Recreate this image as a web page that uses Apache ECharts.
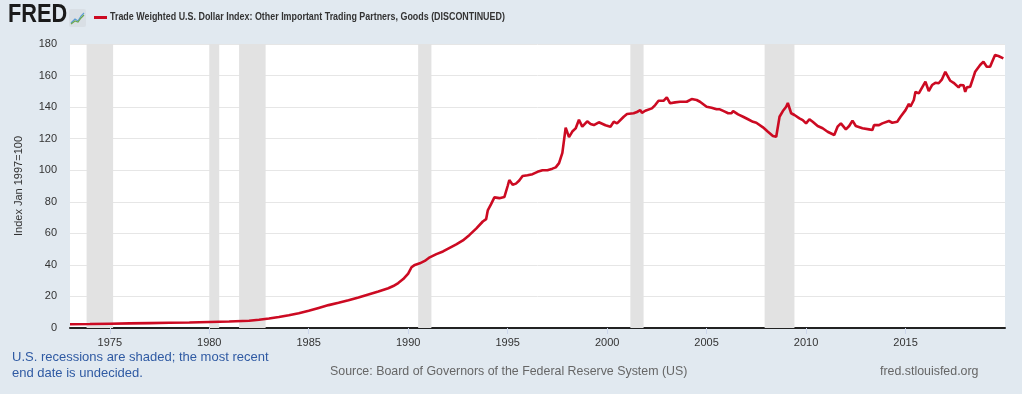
<!DOCTYPE html>
<html>
<head>
<meta charset="utf-8">
<script src="https://cdn.jsdelivr.net/npm/echarts@6/dist/echarts.min.js"></script>
<style>
html,body{margin:0;padding:0;background:#e1e9f0;}
#chart{width:1022px;height:394px;}
</style>
</head>
<body>
<div id="chart"></div>
<script>
// ---- data ----
const dates = [
 '1973-01','1974-01','1975-01','1976-01','1977-01','1978-01','1979-01','1980-01','1981-01','1982-01',
 '1982-07','1983-01','1983-07','1984-01','1984-07','1985-01','1985-07','1986-01','1986-07','1987-01',
 '1987-07','1988-01','1988-07','1989-01','1989-04','1989-07','1989-10','1990-01','1990-03','1990-05',
 '1990-08','1990-11','1991-02','1991-06','1991-10','1992-02','1992-06','1992-10','1993-02','1993-06',
 '1993-10','1993-12','1994-01','1994-03','1994-05','1994-08','1994-11','1995-01','1995-02','1995-04',
 '1995-06','1995-08','1995-10','1996-01','1996-04','1996-07','1996-10','1997-01','1997-04','1997-06',
 '1997-08','1997-10','1997-12','1998-02','1998-04','1998-06','1998-08','1998-10','1999-01','1999-03',
 '1999-05','1999-08','1999-12','2000-03','2000-05','2000-07','2000-11','2001-01','2001-05','2001-07',
 '2001-09','2001-10','2001-12','2002-04','2002-06','2002-08','2002-11','2003-01','2003-03','2003-06',
 '2003-09','2003-10','2004-01','2004-04','2004-07','2004-09','2005-01','2005-04','2005-07','2005-09',
 '2005-12','2006-02','2006-04','2006-05','2006-08','2006-11','2007-02','2007-05','2007-07','2007-08',
 '2007-11','2008-02','2008-05','2008-07','2008-09','2008-11','2009-01','2009-02','2009-04','2009-06',
 '2009-09','2009-11','2010-01','2010-03','2010-05','2010-08','2010-11','2011-02','2011-06','2011-08',
 '2011-10','2012-01','2012-03','2012-05','2012-07','2012-11','2013-03','2013-05','2013-06','2013-09',
 '2013-11','2014-03','2014-05','2014-08','2014-10','2015-01','2015-03','2015-04','2015-06','2015-07',
 '2015-09','2016-01','2016-03','2016-05','2016-07','2016-09','2016-11','2017-01','2017-02','2017-04',
 '2017-06','2017-09','2017-10','2017-12','2018-01','2018-02','2018-04','2018-06','2018-07','2018-10',
 '2018-12','2019-02','2019-04','2019-05','2019-06','2019-07','2019-09','2019-12'
];
const values = [
 2.4,2.5,2.7,2.9,3.1,3.3,3.5,3.8,4.1,4.6,
 5.2,6.0,7.0,8.1,9.4,10.9,12.7,14.5,16.0,17.6,
 19.4,21.3,23.2,25.2,26.6,28.5,31.0,34.5,38.5,40.0,
 41.0,42.5,44.8,46.8,48.5,50.8,53.0,55.5,59.0,63.0,
 67.5,69.0,74.5,78.5,82.8,82.3,83.0,90.0,93.8,90.8,
 91.5,93.5,96.3,96.8,97.5,99.0,100.0,100.0,101.0,101.8,
 104.5,111.0,127.0,121.0,124.5,126.5,132.0,127.6,131.0,129.3,
 128.6,130.4,128.5,127.6,130.7,129.7,133.9,135.6,136.1,136.9,
 138.1,136.4,137.7,139.2,141.3,144.0,144.0,146.2,142.4,143.0,
 143.4,142.4,143.4,145.1,144.5,143.4,140.2,139.6,138.6,138.6,
 137.1,136.1,136.1,137.5,135.4,133.9,132.3,130.7,130.1,129.3,
 127.2,124.4,121.7,121.2,133.9,137.5,140.2,142.6,136.1,135.0,
 132.9,131.8,129.7,132.3,130.7,128.0,126.6,124.4,122.3,127.6,
 129.7,125.9,128.0,131.4,128.0,126.6,125.9,125.5,128.6,128.6,
 129.7,131.2,130.1,130.7,133.9,138.1,142.0,140.4,144.5,149.7,
 148.7,156.1,150.2,154.0,155.4,155.1,157.6,162.4,163.0,156.7,
 155.4,152.5,154.0,153.8,149.7,152.5,152.9,159.2,162.4,166.7,
 168.8,165.6,165.6,168.1,168.1,173.0,172.4,170.9
];
const recessions = [
 ['1973-11','1975-03'],['1980-01','1980-07'],['1981-07','1982-11'],
 ['1990-07','1991-03'],['2001-03','2001-11'],['2007-12','2009-06']
];
const xTicks = [1975,1980,1985,1990,1995,2000,2005,2010,2015];
const yTicks = [0,20,40,60,80,100,120,140,160,180];
const titleText = 'Trade Weighted U.S. Dollar Index: Other Important Trading Partners, Goods (DISCONTINUED)';
const yName = 'Index Jan 1997=100';

function toYear(s){ const p=s.split('-'); return (+p[0]) + ((+p[1])-1)/12; }
const seriesData = dates.map((d,i)=>[toYear(d), values[i]]);
const recAreas = recessions.map(r=>[{xAxis:toYear(r[0])},{xAxis:toYear(r[1])}]);

const chart = echarts.init(document.getElementById('chart'), null, {renderer:'canvas'});
chart.setOption({
  backgroundColor:'#e1e9f0',
  animation:false,
  grid:{left:70,right:17,top:44,bottom:66,show:true,backgroundColor:'#ffffff',borderWidth:0},
  xAxis:{
    type:'value', min:1973, max:2020,
    axisLine:{show:true,onZero:false,lineStyle:{color:'#222',width:2}},
    axisTick:{show:true,customValues:xTicks,length:6,lineStyle:{color:'#ccd6eb'}},
    axisLabel:{customValues:xTicks,color:'#333',fontSize:11,fontFamily:'Liberation Sans, Arial, sans-serif',margin:9,formatter:v=>String(Math.round(v))},
    splitLine:{show:false}
  },
  yAxis:{
    type:'value', min:0, max:180, interval:20,
    name:yName, nameLocation:'middle', nameGap:46, nameRotate:90,
    nameTextStyle:{color:'#333',fontSize:11,fontFamily:'Liberation Sans, Arial, sans-serif'},
    axisLine:{show:false}, axisTick:{show:false},
    axisLabel:{color:'#333',fontSize:11,fontFamily:'Liberation Sans, Arial, sans-serif',margin:13},
    splitLine:{show:true,lineStyle:{color:'#e6e6e6',width:1}}
  },
  series:[{
    type:'line', data:seriesData, showSymbol:false, symbol:'none',
    lineStyle:{color:'#cc0a22',width:2.6}, z:3,
    markArea:{silent:true,itemStyle:{color:'#e2e2e2'},data:recAreas}
  }],
  graphic:[
    {type:'text',x:8,y:3,scaleX:0.87,style:{text:'FRED',font:'900 25px "Liberation Sans", Arial, sans-serif',fill:'#1a1a1a',textVerticalAlign:'top'}},
    {type:'group',x:69,y:9,children:[
      {type:'rect',shape:{x:0,y:0,width:17,height:18,r:2},style:{fill:'#d9dfe5'}},
      {type:'polyline',shape:{points:[[2,14],[6,10],[9,12],[12,7],[15,4]]},style:{stroke:'#5b9bd5',lineWidth:1.2,fill:null}},
      {type:'polyline',shape:{points:[[2,15],[6,12],[9,13],[12,9],[15,6]]},style:{stroke:'#6aa84f',lineWidth:1.2,fill:null}}
    ]},
    {type:'rect',shape:{x:94,y:16,width:13,height:3},style:{fill:'#cc0a22'}},
    {type:'text',x:110,y:11,scaleX:0.81,style:{text:titleText,font:'bold 11px "Liberation Sans", Arial, sans-serif',fill:'#333',textVerticalAlign:'top'}},
    {type:'text',x:12,y:349,style:{text:'U.S. recessions are shaded; the most recent\nend date is undecided.',font:'13px "Liberation Sans", Arial, sans-serif',fill:'#2f5aa3',lineHeight:16,textVerticalAlign:'top'}},
    {type:'text',x:330,y:366,style:{text:'Source: Board of Governors of the Federal Reserve System (US)',font:'12.4px "Liberation Sans", Arial, sans-serif',fill:'#666',textVerticalAlign:'top'}},
    {type:'text',x:880,y:366,style:{text:'fred.stlouisfed.org',font:'12.4px "Liberation Sans", Arial, sans-serif',fill:'#666',textVerticalAlign:'top'}}
  ]
});
</script>
</body>
</html>
